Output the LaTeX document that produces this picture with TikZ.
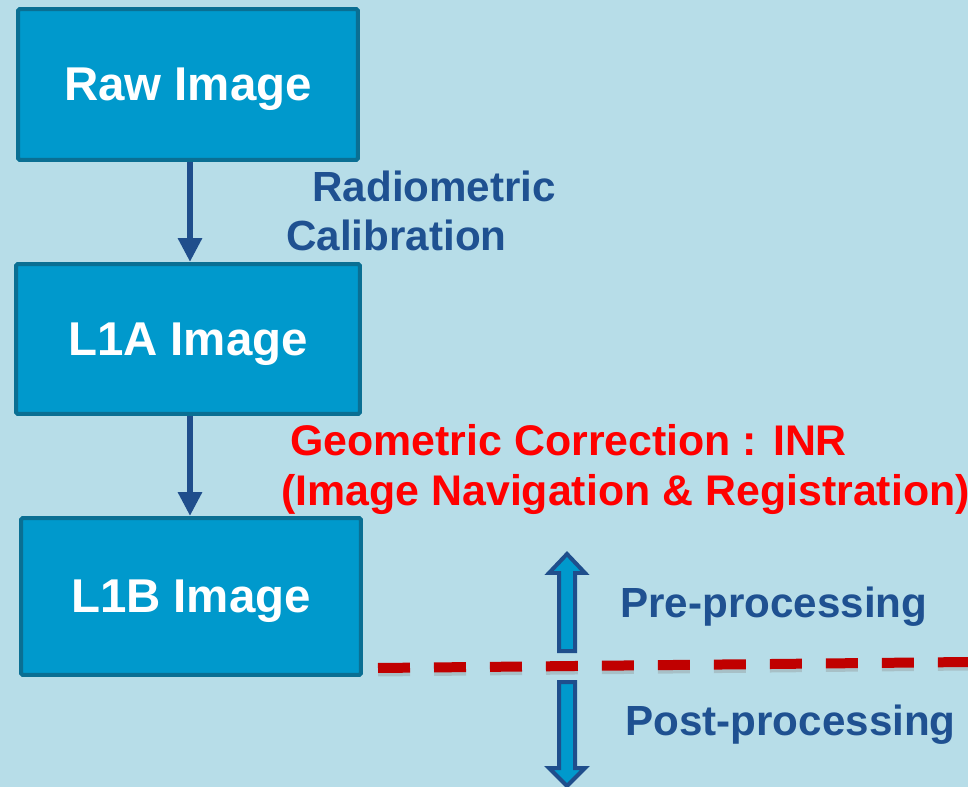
\documentclass[tikz,border=0pt]{standalone}
\usepackage{fontspec}
\setmainfont{Liberation Sans}
\usepackage{tikz}
\usetikzlibrary{arrows.meta}
\definecolor{bgB}{HTML}{B7DDE8}
\definecolor{boxB}{HTML}{0099CC}
\definecolor{boxE}{HTML}{0A6F93}
\definecolor{arrB}{HTML}{1F4E8C}
\definecolor{txtB}{HTML}{1F5191}
\definecolor{corrR}{HTML}{FF0000}
\definecolor{splitR}{HTML}{C00000}

\begin{document}
\begin{tikzpicture}[x=0.02cm, y=-0.02cm,
  font=\bfseries\fontsize{24}{28}\selectfont,
  imgbox/.style={draw=boxE, fill=boxB, line width=0.08cm, rounded corners=1pt,
    text=white, font=\bfseries\fontsize{27}{30}\selectfont,
    text depth=0pt, inner sep=0pt},
  flow/.style={-{Triangle[width=0.46cm, length=0.48cm]}, arrB, line width=0.14cm},
  txt/.style={anchor=base west, inner sep=0pt, text=txtB},
  blockarr/.style={draw=arrB, fill=boxB, line width=0.08cm, line join=miter},
  split/.style={line width=0.2cm, dash pattern=on 0.64cm off 0.48cm}]
  \useasboundingbox (0,0) rectangle (968,787);
  \fill[bgB] (0,0) rectangle (968,787);
  % image levels: name, centre x, centre y, width, height, label
  \foreach \nm/\cx/\cy/\w/\h/\lab in {%
    raw/188/84.5/6.8/3.02/{Raw Image},%
    l1a/188/339/6.88/3.0/{L1A Image},%
    l1b/191/596.5/6.8/3.14/{L1B Image}}{%
      \node[imgbox, minimum width=\w cm, minimum height=\h cm] (\nm) at (\cx,\cy) {\lab};
  }
  % processing steps
  \draw[flow] ([xshift=0.04cm]raw.south) -- ([xshift=0.04cm]raw.south |- l1a.north);
  \draw[flow] ([xshift=0.04cm]l1a.south) -- ([xshift=0.04cm]l1a.south |- l1b.north);
  \node[txt] (radio) at (312,202) {Radiometric};
  \node[txt] (calib) at (286,251) {Calibration};
  \node[txt, text=corrR, font=\bfseries\fontsize{24.4}{28}\selectfont] (geo) at (290,456)
    {Geometric Correction : INR};
  \node[txt, text=corrR, font=\bfseries\fontsize{24.4}{28}\selectfont] (inr) at (281,506)
    {(Image Navigation \& Registration)};
  % pre / post split
  \coordinate (dashL) at (378,668);
  \coordinate (dashR) at (968,662);
  \draw[split, black!45, opacity=0.35] ([yshift=-0.07cm]dashL) -- ([yshift=-0.07cm]dashR);
  \draw[split, splitR] (dashL) -- (dashR);
  \draw[blockarr] (559,651) -- (559,573) -- (549,573) -- (567,554) -- (585,573)
    -- (575,573) -- (575,651) -- cycle;
  \draw[blockarr] (559,682) -- (559,768) -- (549,768) -- (567,786) -- (585,768)
    -- (575,768) -- (575,682) -- cycle;
  \node[txt] (pre) at (620,618) {Pre-processing};
  \node[txt] (post) at (625,735) {Post-processing};
\end{tikzpicture}
\end{document}
